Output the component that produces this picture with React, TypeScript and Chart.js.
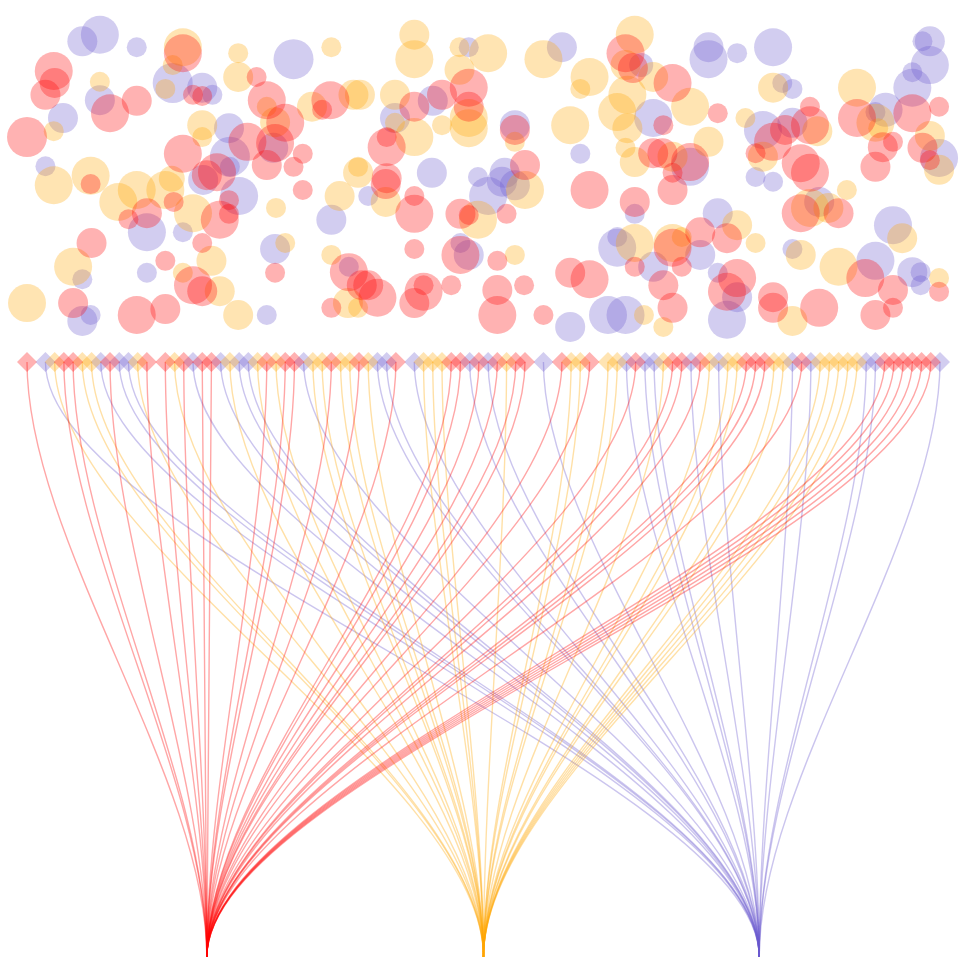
import { useEffect, useRef } from "react";
import { Chart, registerables } from "chart.js";

Chart.register(...registerables);

// Groups (A = red, B = orange, C = slate blue)
const groupKeys = ["A", "B", "C"];
const groupRgb = ["255,0,0", "255,165,0", "106,90,205"];
// Hub position of each group on the item axis
const hubPositions = [19.5, 49.5, 79.4];
const itemLevel = 100;
const hubLevel = 0;

// Group of each item (null = empty slot)
const itemGroups: (string | null)[] = [
  "A", null, "C", "B", "A", "A", "B", "B", "C", "A",
  "C", "C", "B", "A", null, "A", "B", "A", "C", "A",
  "A", "C", "B", "C", "C", "B", "A", "B", "A", "A",
  "C", "B", "B", "A", "B", "B", "A", "B", "C", "C",
  "A", null, "C", "B", "B", "B", "A", "A", "C", "A",
  "C", "A", "B", "A", "A", null, "C", null, "A", "B",
  "B", "A", null, "B", "B", "C", "A", "C", "C", "B",
  "A", "A", "C", "A", "B", "C", "B", "B", "A", "A",
  "A", "B", "B", "C", "A", "C", "B", "B", "B", "B",
  "B", "C", "C", "A", "A", "A", "A", "A", "A", "C",
];

// Bubbles: [position, level, radius]
const redBubbles = [
  [16.9, 151.9, 19], [24.9, 147.9, 10], [2.9, 148.9, 19], [3.0, 146.9, 15], [2.0, 144.9, 15],
  [9.0, 141.8, 19], [11.9, 143.9, 15], [18.0, 144.9, 10], [19.0, 144.7, 10], [26.0, 144.0, 19],
  [0, 137.8, 20], [28.0, 140.2, 19], [23.9, 137.0, 19], [26.9, 136.8, 19], [16.9, 135.0, 19],
  [29.9, 135.0, 10], [28.9, 132.8, 10], [26.0, 133.1, 15], [6.9, 129.9, 10], [20.6, 131.9, 19],
  [19.5, 131.4, 15], [15.9, 126.9, 10], [13.0, 125.0, 15], [11.0, 124.0, 10], [20.9, 123.9, 19],
  [21.9, 127.2, 10], [21.9, 124.9, 10], [29.9, 128.9, 10], [7.0, 120.0, 15], [19.0, 120.0, 10],
  [15.0, 117.0, 10], [18.0, 112.9, 19], [19.0, 111.9, 15], [26.9, 115.0, 10], [5.0, 109.9, 15],
  [11.9, 107.9, 19], [15.0, 108.9, 15],
  [47.9, 146.1, 19], [47.9, 142.9, 15], [64.9, 151.9, 19], [65.7, 149.4, 15], [32.9, 144.0, 19],
  [32.0, 142.4, 10], [42.0, 142.9, 15], [45.0, 144.9, 15], [39.0, 136.1, 19], [39.0, 137.8, 10],
  [52.9, 139.0, 15], [54.0, 133.1, 15], [39.0, 130.9, 15], [61.0, 128.9, 19], [38.9, 129.9, 15],
  [42.0, 127.9, 10], [42.0, 124.9, 19], [47.0, 124.9, 15], [47.9, 124.7, 10], [52.0, 124.9, 10],
  [65.9, 126.9, 15], [65.9, 116.0, 10], [42.0, 119.0, 10], [47.0, 118.0, 19], [51.0, 117.0, 10],
  [34.9, 115.1, 19], [36.3, 112.9, 15], [37.0, 112.9, 15], [38.0, 110.8, 19], [33.0, 109.1, 10],
  [43.0, 111.8, 19], [43.0, 112.9, 10], [42.0, 109.9, 15], [46.0, 112.9, 10], [51.0, 112.1, 15],
  [51.0, 107.9, 19], [53.9, 112.9, 10], [58.9, 115.0, 15], [61.0, 113.9, 19], [56.0, 107.9, 10],
  [98.9, 142.9, 10], [90.0, 141.0, 19], [96.0, 141.8, 19], [97.1, 136.0, 15], [97.9, 133.9, 10],
  [92.8, 136.1, 15], [93.9, 137.0, 10], [92.0, 132.8, 15], [84.9, 142.9, 10], [84.9, 139.8, 19],
  [82.2, 139.0, 15], [80.9, 137.0, 19], [79.0, 135.1, 10], [83.9, 133.4, 19], [84.9, 131.8, 19],
  [70.0, 146.9, 19], [74.9, 141.8, 10], [69.0, 139.8, 10], [67.9, 135.1, 15], [68.9, 135.1, 15],
  [71.9, 133.6, 19], [70.0, 131.8, 10], [70.0, 128.9, 15], [83.9, 125.0, 19], [88.0, 125.0, 15],
  [73.0, 121.8, 15], [75.9, 120.8, 15], [70.0, 119.2, 19], [71.0, 116.0, 10], [90.9, 114.1, 19],
  [93.9, 112.1, 15], [98.9, 111.8, 10], [77.0, 114.1, 19], [75.9, 111.8, 19], [69.0, 112.9, 15],
  [70.0, 109.1, 15], [80.9, 110.9, 15], [80.9, 109.1, 15], [85.9, 109.1, 19], [92.0, 107.9, 15],
  [93.9, 109.1, 10],
];

const orangeBubbles = [
  [16.9, 152.9, 19], [15.8, 149.9, 10], [22.9, 151.9, 10], [22.9, 147.9, 15], [7.9, 147.1, 10],
  [15.0, 145.9, 10], [26.0, 142.9, 10], [30.9, 142.9, 15], [2.9, 138.8, 10], [19.0, 139.8, 15],
  [19.0, 137.8, 10], [26.9, 140.3, 15], [2.9, 129.7, 19], [6.9, 131.3, 19], [11.9, 128.9, 19],
  [15.0, 128.9, 19], [9.9, 126.9, 19], [15.7, 130.8, 13], [18.0, 125.0, 19], [27.0, 125.9, 10],
  [5.0, 116.0, 19], [20.0, 117.0, 15], [16.9, 115.0, 10], [20.9, 111.9, 15], [28.0, 120.0, 10],
  [0, 109.9, 19], [22.9, 107.9, 15],
  [33.0, 152.9, 10], [42.0, 155.0, 15], [42.0, 150.9, 19], [46.9, 152.9, 10], [50.0, 151.9, 19],
  [46.9, 149.1, 15], [47.9, 141.0, 19], [47.9, 139.3, 19], [56.0, 150.9, 19], [61.0, 147.9, 19],
  [60.0, 145.9, 10], [65.9, 155.0, 19], [64.9, 149.9, 15], [65.1, 144.9, 19], [64.0, 142.0, 19],
  [65.1, 139.3, 15], [64.9, 136.0, 10], [65.9, 133.6, 15], [58.9, 139.8, 19], [35.4, 144.9, 15],
  [36.1, 144.9, 15], [39.9, 144.9, 15], [39.9, 140.2, 10], [42.0, 137.8, 19], [45.0, 139.8, 10],
  [35.9, 132.8, 10], [35.9, 131.8, 15], [52.9, 137.0, 10], [33.9, 127.9, 15], [38.9, 126.9, 15],
  [48.9, 123.9, 19], [54.0, 128.9, 19], [65.9, 120.0, 19], [33.0, 118.0, 10], [52.9, 118.0, 10],
  [34.8, 109.9, 15], [35.9, 109.1, 10], [66.9, 107.9, 10],
  [90.0, 146.1, 19], [92.0, 140.2, 19], [92.3, 139.3, 10], [97.9, 138.0, 15], [98.9, 132.3, 15],
  [80.9, 146.1, 15], [85.7, 138.8, 15], [77.9, 141.0, 10], [79.8, 134.5, 15], [71.9, 142.9, 19],
  [67.9, 147.9, 15], [73.9, 137.0, 15], [70.0, 134.5, 15], [88.9, 128.9, 10], [84.9, 125.9, 19],
  [86.9, 125.9, 15], [94.9, 120.8, 15], [77.0, 123.0, 15], [79.0, 120.0, 10], [70.0, 120.0, 19],
  [71.0, 121.0, 10], [83.9, 118.0, 15], [88.0, 116.0, 19], [98.9, 114.1, 10], [69.0, 105.9, 10],
  [83.0, 106.9, 15],
];

const blueBubbles = [
  [6.0, 153.9, 15], [7.9, 155.0, 19], [11.9, 152.9, 10], [28.9, 150.9, 20], [7.9, 144.0, 15],
  [15.8, 146.9, 20], [19.0, 146.1, 15], [20.1, 144.9, 10], [3.9, 141.0, 15], [21.9, 139.3, 15],
  [26.7, 136.0, 15], [22.0, 134.5, 20], [2.0, 132.9, 10], [22.0, 132.8, 10], [13.0, 121.8, 19],
  [16.9, 121.8, 10], [23.0, 127.9, 19], [19.1, 130.6, 15], [6.0, 113.9, 10], [13.0, 115.0, 10],
  [26.9, 119.0, 15], [6.0, 106.9, 15], [6.9, 107.9, 10], [26.0, 107.9, 10],
  [47.9, 152.9, 10], [58.0, 152.9, 15], [66.6, 149.9, 12], [60.0, 135.0, 10], [44.0, 143.9, 15],
  [39.9, 141.0, 15], [52.9, 139.8, 15], [51.8, 131.8, 15], [43.9, 131.8, 15], [48.9, 131.1, 10],
  [37.0, 127.9, 10], [33.0, 123.9, 15], [50.0, 127.9, 19], [51.5, 130.3, 15], [52.9, 129.7, 15],
  [65.9, 124.9, 10], [64.0, 119.2, 19], [64.0, 121.0, 10], [47.0, 120.0, 10], [47.9, 118.0, 15],
  [34.9, 116.0, 10], [58.9, 105.9, 15], [63.0, 107.9, 19], [64.9, 107.9, 19],
  [73.9, 152.9, 15], [73.9, 150.9, 19], [77.0, 151.9, 10], [80.9, 152.9, 19], [97.1, 153.9, 10],
  [97.9, 153.9, 15], [97.9, 149.9, 19], [96.0, 148.7, 10], [96.0, 146.1, 19], [93.1, 142.4, 17],
  [92.0, 142.0, 10], [98.9, 134.3, 19], [81.9, 146.9, 10], [83.0, 145.9, 10], [83.0, 140.2, 15],
  [79.8, 139.0, 19], [79.0, 131.1, 10], [80.9, 130.3, 10], [67.9, 141.0, 19], [71.9, 132.8, 19],
  [85.9, 126.9, 15], [93.9, 123.0, 19], [74.9, 125.0, 15], [73.0, 118.0, 15], [67.9, 116.0, 15],
  [83.0, 119.0, 10], [92.0, 117.0, 19], [96.0, 115.1, 15], [96.9, 115.1, 10], [96.9, 112.9, 10],
  [74.9, 115.0, 10], [77.0, 110.9, 15], [75.9, 107.1, 19],
];

const bubbleSeries = [redBubbles, orangeBubbles, blueBubbles];

const rgba = (i: number, a: number) => `rgba(${groupRgb[i]},${a})`;

const linksPlugin = {
  id: "links",
  beforeDatasetsDraw(chart: any) {
    const { ctx, scales } = chart;
    const xs = scales.x;
    const ys = scales.y;
    ctx.save();
    ctx.lineWidth = 1.4;
    itemGroups.forEach((g, i) => {
      if (!g) return;
      const gi = groupKeys.indexOf(g);
      const x0 = xs.getPixelForValue(i);
      const y0 = ys.getPixelForValue(itemLevel);
      const x1 = xs.getPixelForValue(hubPositions[gi]);
      const y1 = ys.getPixelForValue(hubLevel);
      const h = y1 - y0;
      ctx.strokeStyle = rgba(gi, 0.35);
      ctx.beginPath();
      ctx.moveTo(x0, y0);
      ctx.bezierCurveTo(x0, y0 + 0.3 * h, x1, y1 - 0.3 * h, x1, y1);
      ctx.stroke();
    });
    ctx.restore();
  },
};

export default function App() {
  const ref = useRef<HTMLCanvasElement>(null);
  useEffect(() => {
    if (!ref.current) return;
    const bubbleSets = bubbleSeries.map((series, gi) => ({
      type: "bubble" as const,
      label: groupKeys[gi],
      data: series.map(([x, y, r]) => ({ x, y, r })),
      backgroundColor: rgba(gi, 0.3),
      borderWidth: 0,
      hoverBorderWidth: 0,
    }));
    const itemSets = groupKeys.map((key, gi) => ({
      type: "scatter" as const,
      label: "items " + key,
      data: itemGroups
        .map((g, i) => (g === key ? { x: i, y: itemLevel } : null))
        .filter((p) => p !== null),
      pointStyle: "rectRot",
      pointRadius: 10,
      pointBackgroundColor: rgba(gi, 0.3),
      pointBorderWidth: 0,
      showLine: false,
    }));
    const chart = new Chart(ref.current, {
      type: "bubble",
      data: { datasets: [...bubbleSets, ...itemSets] as any },
      options: {
        animation: false,
        responsive: true,
        maintainAspectRatio: false,
        events: [],
        layout: { padding: 0, autoPadding: false },
        plugins: { legend: { display: false }, tooltip: { enabled: false } },
        scales: {
          x: { type: "linear", display: false, min: -2.928, max: 101.711 },
          y: { type: "linear", display: false, min: -3.025, max: 160.84 },
        },
      },
      plugins: [linksPlugin],
    });
    return () => chart.destroy();
  }, []);
  return (
    <div style={{ position: "fixed", left: 0, top: 0, width: 965, height: 975, background: "#fff" }}>
      <canvas ref={ref} />
    </div>
  );
}
